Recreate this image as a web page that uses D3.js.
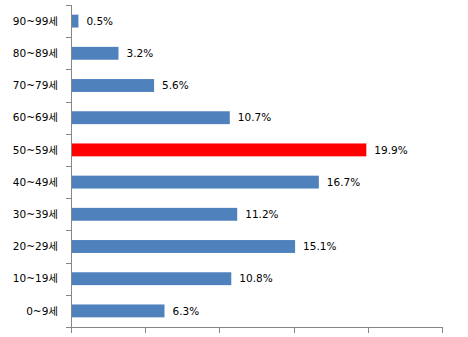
<!DOCTYPE html>
<html><head><meta charset="utf-8">
<script src="https://cdn.jsdelivr.net/npm/d3@7"></script>
<style>body{margin:0;background:#fff}svg{display:block}text{font-family:"DejaVu Sans","Noto Sans CJK KR",sans-serif}</style>
</head><body>
<script>
const categories = ["90~99세","80~89세","70~79세","60~69세","50~59세","40~49세","30~39세","20~29세","10~19세","0~9세"];
const values = [0.5,3.2,5.6,10.7,19.9,16.7,11.2,15.1,10.8,6.3];
const highlight = "50~59세";
const xTicks = [0,5,10,15,20,25];

const W=468,H=337;
const svg=d3.select("body").append("svg").attr("width",W).attr("height",H);
const x=d3.scaleLinear().domain([0,25]).range([71,442]);
const y=d3.scaleBand().domain(categories).range([5,327]).paddingInner(0.6).paddingOuter(0.3);
const yb=d3.scaleBand().domain(categories).range([5,327]);
const axisColor="#868686";

svg.selectAll("rect.bar").data(categories).join("rect")
  .attr("x",x(0)).attr("y",d=>y(d))
  .attr("width",(d,i)=>x(values[i])-x(0)).attr("height",y.bandwidth())
  .attr("fill",d=>d===highlight?"#FF0000":"#4F81BD");

svg.selectAll("text.val").data(categories).join("text")
  .attr("x",(d,i)=>x(values[i])+8).attr("y",d=>y(d)+y.bandwidth()/2)
  .attr("dy","0.36em").attr("font-size",10.5).attr("fill","#000")
  .text((d,i)=>values[i].toFixed(1)+"%");

const gy=svg.append("g");
gy.append("line").attr("x1",71.5).attr("x2",71.5).attr("y1",5).attr("y2",327).attr("stroke",axisColor);
const bounds=categories.map(d=>yb(d)).concat([327]);
gy.selectAll("line.t").data(bounds).join("line")
  .attr("x1",66).attr("x2",71).attr("y1",d=>Math.round(d)+0.5).attr("y2",d=>Math.round(d)+0.5).attr("stroke",axisColor);
gy.selectAll("text").data(categories).join("text")
  .attr("x",58).attr("y",d=>yb(d)+yb.bandwidth()/2).attr("dy","0.36em")
  .attr("text-anchor","end").attr("font-size",10.5).attr("fill","#000").text(d=>d);

const gx=svg.append("g");
gx.append("line").attr("x1",71).attr("x2",442.5).attr("y1",327.5).attr("y2",327.5).attr("stroke",axisColor);
gx.selectAll("line.t").data(xTicks).join("line")
  .attr("x1",d=>Math.round(x(d))+0.5).attr("x2",d=>Math.round(x(d))+0.5).attr("y1",327).attr("y2",333).attr("stroke",axisColor);
</script>
</body></html>
